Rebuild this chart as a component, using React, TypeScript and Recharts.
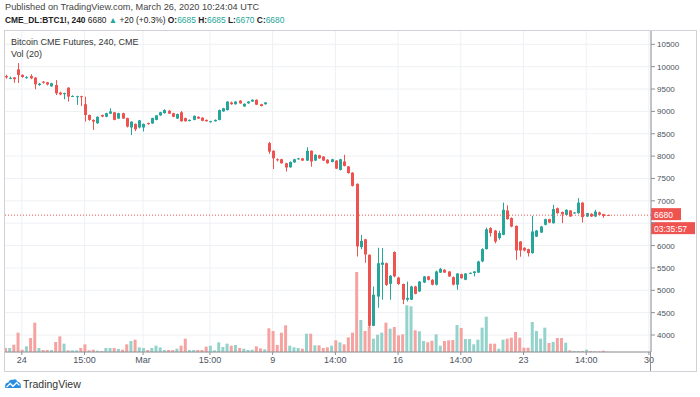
import React from 'react';
import { ComposedChart, Bar, XAxis, YAxis, CartesianGrid, ReferenceLine, Cell } from 'recharts';

const FONT = "'Liberation Sans', Arial, sans-serif";
const UP = '#26a69a';
const DOWN = '#ef5350';
const UP_VOL = '#93d3cb';
const DOWN_VOL = '#f5a3a1';

// 240 min bars, Feb 23 2020 -> Mar 26 2020 (CME BTC futures)
const OPEN = [
  9790, 9740, 9760, 9940, 9815, 9745, 9790, 9755, 9590, 9665,
  9650, 9560, 9590, 9420, 9385, 9530, 9330, 9320, 9340, 9160,
  8920, 8810, 8735, 8920, 8880, 8950, 8980, 8840, 8960, 8850,
  8640, 8720, 8640, 8640, 8740, 8730, 8810, 8910, 8960, 9015,
  8960, 8840, 8980, 8850, 8785, 8810, 8880, 8860, 8810, 8760,
  8780, 8810, 9000, 9030, 9200, 9160, 9240, 9110, 9180, 9220,
  9260, 9160, 9160, 8290, 8120, 7930, 7930, 7840, 7750, 7860,
  7930, 7950, 7900, 8120, 7900, 8020, 7990, 7920, 7870, 7900,
  7690, 7880, 7770, 7630, 7380, 5965, 6140, 5795, 4205, 4860,
  5570, 5605, 5145, 5855, 5285, 5140, 4790, 4790, 5085, 4975,
  5175, 5310, 5235, 5125, 5395, 5460, 5420, 5295, 5125, 5360,
  5235, 5375, 5385, 5395, 5645, 5920, 6390, 6335, 6165, 6240,
  6785, 6615, 6440, 6090, 5950, 5920, 5830, 6200, 6290, 6465,
  6590, 6500, 6835, 6750, 6685, 6785, 6720, 6725, 6960, 6650,
  6710, 6650, 6740, 6700, 6685,
];
const HIGH = [
  9820, 9780, 9770, 10080, 9830, 9790, 9830, 9770, 9640, 9680,
  9660, 9640, 9700, 9440, 9420, 9540, 9360, 9350, 9350, 9330,
  8930, 8820, 8890, 8930, 8970, 9070, 8990, 8970, 8970, 8860,
  8780, 8730, 8810, 8730, 8750, 8860, 8920, 8990, 9050, 9030,
  8970, 8950, 9010, 8860, 8820, 8910, 8890, 8870, 8820, 8790,
  8820, 9040, 9080, 9230, 9220, 9230, 9250, 9180, 9230, 9270,
  9270, 9170, 9210, 8320, 8130, 7950, 7940, 7850, 7880, 7940,
  7960, 7960, 8200, 8130, 8040, 8030, 8000, 7930, 7940, 7910,
  7940, 8030, 7780, 7640, 7390, 6240, 6150, 5800, 5085, 5950,
  5945, 5620, 5340, 5870, 5300, 5150, 5195, 5100, 5100, 5210,
  5320, 5320, 5250, 5440, 5500, 5470, 5430, 5310, 5385, 5370,
  5385, 5400, 5430, 5660, 5940, 6400, 6410, 6350, 6330, 6960,
  6900, 6630, 6450, 6100, 5960, 5930, 6665, 6350, 6440, 6600,
  6600, 6910, 6850, 6760, 6810, 6790, 6750, 7060, 6970, 6730,
  6720, 6800, 6760, 6710, 6685,
];
const LOW = [
  9730, 9720, 9640, 9635, 9750, 9730, 9720, 9495, 9570, 9620,
  9580, 9550, 9365, 9360, 9270, 9220, 9320, 9145, 9120, 8770,
  8790, 8585, 8720, 8870, 8870, 8940, 8800, 8830, 8830, 8640,
  8470, 8560, 8620, 8550, 8700, 8720, 8800, 8900, 8950, 8940,
  8870, 8830, 8770, 8770, 8775, 8800, 8830, 8780, 8770, 8750,
  8770, 8800, 8990, 9020, 9150, 9150, 9170, 9100, 9170, 9210,
  9140, 9110, 9150, 8050, 7710, 7880, 7830, 7655, 7740, 7850,
  7920, 7890, 7890, 7765, 7890, 7940, 7890, 7830, 7860, 7710,
  7680, 7770, 7610, 7320, 5755, 5920, 5615, 4170, 4200, 4610,
  4790, 5100, 4790, 5290, 5120, 4690, 4750, 4780, 4910, 4960,
  5160, 5220, 5110, 5110, 5390, 5390, 5300, 5110, 5010, 5260,
  5225, 5365, 5310, 5390, 5630, 5910, 6200, 6050, 6130, 6230,
  6580, 6410, 5680, 5750, 5870, 5755, 5820, 6190, 6280, 6450,
  6500, 6490, 6710, 6500, 6670, 6640, 6710, 6710, 6515, 6640,
  6640, 6640, 6680, 6620, 6670,
];
const CLOSE = [
  9760, 9750, 9720, 9815, 9770, 9765, 9740, 9605, 9620, 9640,
  9600, 9630, 9405, 9380, 9410, 9330, 9345, 9340, 9325, 8920,
  8810, 8770, 8880, 8885, 8960, 9000, 8810, 8960, 8840, 8660,
  8770, 8600, 8800, 8720, 8720, 8850, 8910, 8980, 9030, 8950,
  8880, 8940, 8780, 8780, 8810, 8900, 8840, 8790, 8780, 8780,
  8810, 9030, 9070, 9220, 9160, 9220, 9180, 9170, 9220, 9260,
  9150, 9120, 9200, 8100, 7950, 7910, 7840, 7745, 7870, 7930,
  7950, 7900, 8120, 7880, 8030, 7950, 7900, 7840, 7930, 7720,
  7930, 7780, 7620, 7335, 5980, 6105, 5800, 4205, 4900, 5605,
  5620, 5120, 5325, 5310, 5140, 4790, 4830, 5085, 4920, 5195,
  5310, 5235, 5125, 5420, 5480, 5395, 5310, 5125, 5375, 5270,
  5375, 5390, 5420, 5645, 5920, 6365, 6280, 6090, 6280, 6800,
  6590, 6425, 5890, 5890, 5890, 5830, 6315, 6335, 6425, 6590,
  6515, 6815, 6725, 6700, 6800, 6650, 6740, 6960, 6635, 6725,
  6650, 6760, 6690, 6660, 6680,
];
const VOLUME = [
  120, 120, 220, 580, 70, 170, 420, 880, 120, 60,
  60, 60, 300, 470, 250, 50, 50, 50, 120, 230,
  50, 70, 40, 30, 120, 120, 120, 90, 70, 230,
  330, 370, 140, 120, 60, 120, 190, 140, 60, 60,
  60, 100, 190, 400, 60, 60, 60, 60, 160, 190,
  50, 290, 150, 250, 190, 210, 120, 100, 60, 70,
  170, 110, 80, 710, 630, 210, 580, 800, 190, 140,
  120, 100, 550, 550, 200, 200, 120, 140, 190, 350,
  290, 230, 440, 580, 2400, 960, 630, 760, 400, 520,
  580, 880, 700, 750, 500, 530, 1400, 1370, 650, 620,
  330, 290, 340, 530, 190, 330, 350, 360, 810, 720,
  390, 390, 230, 370, 730, 1060, 250, 250, 100, 370,
  400, 430, 600, 430, 130, 130, 900, 630, 400, 730,
  270, 300, 420, 420, 280, 50, 30, 30, 30, 70,
  30, 20, 20, 40, 10,
];

const SLOTS = 155;
const X_TICKS = [4, 19, 33, 49, 64, 79, 94, 109, 124, 139, 154];
const X_LABELS = ['24', '15:00', 'Mar', '15:00', '9', '14:00', '16', '14:00', '23', '14:00', '30'];
const PRICE_TICKS = [4000, 4500, 5000, 5500, 6000, 6500, 7000, 7500, 8000, 8500, 9000, 9500, 10000, 10500];
const HIDDEN_PRICE_LABEL = 6500; // covered by the last-price tag
const LAST_PRICE = 6680;

const rows = Array.from({ length: SLOTS }, (_, i) => ({
  i,
  o: i < OPEN.length ? OPEN[i] : null,
  h: i < OPEN.length ? HIGH[i] : null,
  l: i < OPEN.length ? LOW[i] : null,
  c: i < OPEN.length ? CLOSE[i] : null,
  v: i < OPEN.length ? VOLUME[i] : null,
}));

const Candle = (props: any) => {
  const { x, y, width, height, payload } = props;
  if (!payload || payload.o == null) return null;
  const { o, h, l, c } = payload;
  const top = Math.min(y, y + height);
  const hgt = Math.abs(height);
  const k = h > l ? hgt / (h - l) : 0;
  const py = (v: number) => top + (h - v) * k;
  const cx = Math.round(x + width / 2);
  const color = c >= o ? UP : DOWN;
  const b1 = py(Math.max(o, c));
  const b2 = py(Math.min(o, c));
  return (
    <g>
      <line x1={cx + 0.5} x2={cx + 0.5} y1={top} y2={top + hgt} stroke={color} strokeWidth={1} />
      <rect x={cx - 1} y={b1} width={3} height={Math.max(1, b2 - b1)} fill={color} />
    </g>
  );
};

const PriceTick = (props: any) => {
  const { x, y, payload } = props;
  if (payload.value === HIDDEN_PRICE_LABEL) return <g />;
  return (
    <text x={x} y={y} dy={3} fill="#4c525e" fontSize={8} fontFamily={FONT} textAnchor="start">
      {payload.value}
    </text>
  );
};

const PriceTag = (props: any) => {
  const vb = props.viewBox || {};
  const right = vb.x + vb.width;
  const y = vb.y;
  return (
    <g fontFamily={FONT} fontSize={8.5}>
      <rect x={right} y={y - 7} width={30} height={12} fill={DOWN} />
      <text x={right + 3} y={y + 2.5} fill="#fff">6680</text>
      <rect x={right} y={y + 7} width={44} height={12} fill={DOWN} />
      <text x={right + 3} y={y + 16.5} fill="#fff">03:35:57</text>
    </g>
  );
};

export default function App() {
  const xTickStyle = { fontSize: 9, fill: '#4c525e', fontFamily: FONT };
  return (
    <div style={{ position: 'absolute', left: 0, top: 0, width: 700, height: 397, background: '#fff', fontFamily: FONT, color: '#444', overflow: 'hidden' }}>
      <div style={{ position: 'absolute', left: 5, top: 1, fontSize: 9.2, lineHeight: '12px', whiteSpace: 'nowrap' }}>
        Published on TradingView.com, March 26, 2020 10:24:04 UTC
      </div>
      <div style={{ position: 'absolute', left: 5, top: 14, fontSize: 8.4, lineHeight: '12px', whiteSpace: 'nowrap', color: '#222' }}>
        <b>CME_DL:BTC1!, 240</b> 6680 <span style={{ color: UP }}>▲</span> +20 (+0.3%) <b>O:</b><span style={{ color: UP }}>6685</span> <b>H:</b><span style={{ color: UP }}>6685</span> <b>L:</b><span style={{ color: UP }}>6670</span> <b>C:</b><span style={{ color: UP }}>6680</span>
      </div>

      <div style={{ position: 'absolute', left: 5, top: 30, width: 692, height: 342, overflow: 'hidden' }}>
        <div style={{ position: 'absolute', left: -2, top: 0 }}>
          <ComposedChart width={694} height={342} data={rows} margin={{ top: 0, right: 0, bottom: 0, left: 0 }}>
            <CartesianGrid xAxisId="x" yAxisId="price" stroke="#edf0f4" />
            <XAxis xAxisId="x" dataKey="i" type="category" ticks={X_TICKS} interval={0} height={20}
              tickFormatter={(v: any) => X_LABELS[X_TICKS.indexOf(v)] ?? ''}
              tick={xTickStyle} tickSize={3} stroke="#8e9096" />
            <XAxis xAxisId="x2" dataKey="i" type="category" hide />
            <YAxis yAxisId="price" orientation="right" domain={[3620, 10820]} ticks={PRICE_TICKS} interval={0} width={46}
              allowDataOverflow tick={<PriceTick />} tickSize={4} stroke="#8e9096" />
            <YAxis yAxisId="vol" domain={[0, 9660]} hide />
            <Bar xAxisId="x" yAxisId="vol" dataKey="v" barSize={3} isAnimationActive={false}>
              {rows.map((r) => (
                <Cell key={r.i} fill={r.c != null && r.o != null && r.c >= r.o ? UP_VOL : DOWN_VOL} />
              ))}
            </Bar>
            <Bar xAxisId="x2" yAxisId="price" dataKey={(d: any) => (d.o == null ? null : [d.l, d.h])}
              barSize={3} shape={<Candle />} isAnimationActive={false} />
            <ReferenceLine xAxisId="x" yAxisId="price" y={LAST_PRICE} stroke={DOWN} strokeDasharray="1 2"
              label={<PriceTag />} />
          </ComposedChart>
        </div>
      </div>
      <div style={{ position: 'absolute', left: 650, top: 352, width: 1, height: 20, background: '#8e9096' }} />
      <div style={{ position: 'absolute', left: 4, top: 30, width: 693, height: 342, border: '1px solid #cfd2d6', boxSizing: 'border-box', pointerEvents: 'none' }} />

      <div style={{ position: 'absolute', left: 11, top: 37, fontSize: 9, lineHeight: '11px', whiteSpace: 'nowrap', color: '#333' }}>
        Bitcoin CME Futures, 240, CME
      </div>
      <div style={{ position: 'absolute', left: 11, top: 49, fontSize: 9, lineHeight: '11px', whiteSpace: 'nowrap', color: '#333' }}>
        Vol (20)
      </div>

      <svg style={{ position: 'absolute', left: 4, top: 378 }} width={18} height={11} viewBox="0 0 18 12">
        <path d="M0.5 11 L0.5 8 Q1 5 4 5 Q5 1 9 2 Q12 0 14 4 Q17.5 4.5 17.5 8 L17.5 11 Z" fill="#2a8de0" />
        <path d="M2 10 L6 6 L9 9 L13 5 L16 8" stroke="#fff" strokeWidth={1.4} fill="none" />
      </svg>
      <div style={{ position: 'absolute', left: 23, top: 378, fontSize: 10.5, lineHeight: '12px', color: '#333' }}>
        TradingView
      </div>
    </div>
  );
}
